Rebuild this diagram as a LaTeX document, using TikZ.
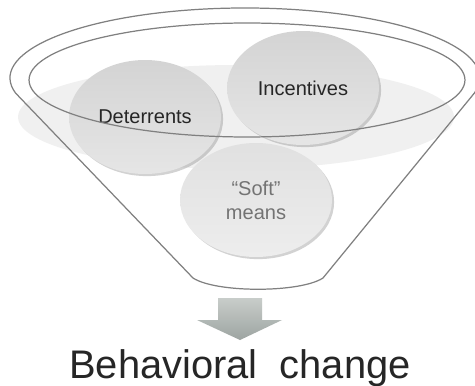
\documentclass[tikz,border=0pt]{standalone}
\usepackage{fontspec}
\setmainfont{Liberation Sans}
\usepackage{xcolor}
\usepackage{tikz}
\usetikzlibrary{shapes.geometric,shadows}

\definecolor{rim}{HTML}{808080}
\definecolor{band}{HTML}{F0F0F0}
\definecolor{arrowtop}{HTML}{C8CDCA}
\definecolor{arrowbot}{HTML}{9DA4A1}

\tikzset{
  ball/.style={ellipse, minimum width=3.04cm, minimum height=2.28cm,
    top color=black!17, bottom color=black!10,
    drop shadow={opacity=.35, shadow xshift=1.2pt, shadow yshift=-1.2pt},
    font=\fontsize{11.4}{13.5}\selectfont, text=black!85, align=center},
  rimline/.style={draw=rim, line width=0.7pt}
}

\begin{document}
\begin{tikzpicture}[x=0.02cm, y=-0.02cm]
  \useasboundingbox (0,0) rectangle (475,385);
  \fill[white] (0,0) rectangle (475,385);
  % grey band inside the funnel
  \fill[band] (236,117) ellipse [x radius=4.36cm, y radius=1.04cm];
  % funnel: outer rim, sides and rounded bottom
  \draw[rimline] (15.5,93) arc [start angle=192.4, end angle=-12.4, x radius=4.7cm, y radius=1.4cm]
    -- (323,278) .. controls (300,293) and (216,293) .. (193,278) -- cycle;
  \node[ball] (deter) at (145,117) {Deterrents};
  \node[ball] (incent) at (303,88) {Incentives};
  % inner rim over the two upper balls
  \draw[rimline] (247,80) ellipse [x radius=4.36cm, y radius=1.14cm];
  \node[ball, top color=black!12, bottom color=black!7, text=black!55] (soft) at (256,200) {``Soft''\\means};
  % arrow out of the funnel
  \shade[top color=arrowtop, bottom color=arrowbot]
    (218,298) -- (262,298) -- (262,320) -- (282,320) -- (240,340) -- (197,320) -- (218,320) -- cycle;
  \node[font=\fontsize{22.7}{27}\selectfont, text=black!85, anchor=base] (change) at (240,378) {Behavioral~~change};
\end{tikzpicture}
\end{document}
